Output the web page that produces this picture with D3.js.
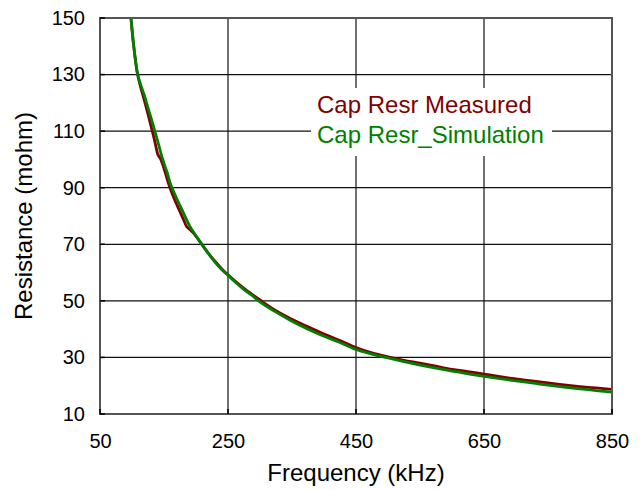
<!DOCTYPE html>
<html>
<head>
<meta charset="utf-8">
<script src="https://cdn.jsdelivr.net/npm/d3@7"></script>
<style>
  html, body { margin: 0; padding: 0; background: #fff; }
  svg { display: block; font-family: "Liberation Sans", Arial, sans-serif; }
</style>
</head>
<body>
<svg id="chart" width="641" height="490"></svg>
<script>
// ---- data ----
const freq = [98,100,102,104,106,108,110,113,116,120,125,130,135,140,145,150,155,160,165,170,175,180,185,190,195,200,210,220,230,240,250,262,275,287,300,325,350,375,400,425,450,475,500,525,550,575,600,625,650,675,700,725,750,775,800,825,850];
const resMeasured = [151,146,141.5,137.5,134,131,128.8,126,123.5,120.3,116,111.5,107,102,100,96.8,93,89.5,86.6,84,81.5,79,76.4,75.3,74.2,72.8,69.7,66.6,63.9,61.4,59.2,56.8,54.4,52.4,50.3,46.5,43.5,40.8,38.3,36,33.5,31.6,30.2,29,28,26.9,25.8,25,24.1,23.2,22.4,21.7,21,20.3,19.7,19.2,18.7];
const resSimulation = [151,146,141.5,137.5,134,131,129,126.8,124.8,122.2,118.2,114.5,110.5,106.6,102.3,98.6,95.3,91.4,88.6,86.1,83.7,81.3,78.9,76.5,74.7,73,69.7,66.5,63.6,61.1,59,56.5,54,52,49.6,46,42.8,40,37.5,35.3,32.8,31.2,29.8,28.5,27.3,26.2,25.2,24.2,23.3,22.5,21.7,21,20.2,19.5,18.9,18.3,17.7];
const xTicks = [50,250,450,650,850];
const yTicks = [10,30,50,70,90,110,130,150];
const seriesNames = ["Cap Resr Measured","Cap Resr_Simulation"];
const seriesColors = ["#800000","#008000"];

// ---- layout ----
const L = 100, R = 612, T = 18, B = 414;
const svg = d3.select("#chart");
const x = d3.scaleLinear().domain([50,850]).range([L,R]);
const y = d3.scaleLinear().domain([10,150]).range([B,T]);

// gridlines
const grid = svg.append("g");
grid.selectAll("line.v").data(xTicks.slice(1,-1)).join("line")
  .attr("x1", d=>x(d)).attr("x2", d=>x(d)).attr("y1", T).attr("y2", B)
  .attr("stroke", "#111").attr("stroke-width", 1.2);
grid.selectAll("line.h").data(yTicks.slice(1,-1)).join("line")
  .attr("x1", L).attr("x2", R).attr("y1", d=>y(d)).attr("y2", d=>y(d))
  .attr("stroke", "#111").attr("stroke-width", 1.2);

// clip
svg.append("defs").append("clipPath").attr("id","plotclip")
  .append("rect").attr("x", L).attr("y", T).attr("width", R-L).attr("height", B-T);

// lines
const line = d3.line().x((d,i)=>x(freq[i])).y(d=>y(d)).curve(d3.curveMonotoneX);
const lines = svg.append("g").attr("clip-path","url(#plotclip)");
[resMeasured, resSimulation].forEach((s,k)=>{
  lines.append("path").datum(s).attr("d", line)
    .attr("fill","none").attr("stroke", seriesColors[k])
    .attr("stroke-width", 2.8).attr("stroke-linejoin","round");
});

// frame
svg.append("rect").attr("x", L).attr("y", T).attr("width", R-L).attr("height", B-T)
  .attr("fill","none").attr("stroke","#555").attr("stroke-width",2);

// axes
const xAxis = d3.axisBottom(x).tickValues(xTicks).tickSize(0).tickPadding(20);
const gx = svg.append("g").attr("transform",`translate(0,${B})`).call(xAxis);
gx.select(".domain").remove();
gx.selectAll("text").attr("font-size", 20).attr("fill","#000").attr("font-family","Liberation Sans, Arial, sans-serif");

const yAxis = d3.axisLeft(y).tickValues(yTicks).tickSize(0).tickPadding(15);
const gy = svg.append("g").attr("transform",`translate(${L},0)`).call(yAxis);
gy.select(".domain").remove();
gy.selectAll("text").attr("font-size", 20).attr("fill","#000").attr("font-family","Liberation Sans, Arial, sans-serif");

// inner tick marks
svg.append("g").selectAll("line").data(yTicks).join("line")
  .attr("x1", L).attr("x2", L+5).attr("y1", d=>y(d)).attr("y2", d=>y(d))
  .attr("stroke","#000").attr("stroke-width",1.5);
svg.append("g").selectAll("line").data(xTicks).join("line")
  .attr("x1", d=>x(d)).attr("x2", d=>x(d)).attr("y1", B).attr("y2", B-5)
  .attr("stroke","#000").attr("stroke-width",1.5);

// axis titles
svg.append("text").attr("x", (L+R)/2).attr("y", 481).attr("text-anchor","middle")
  .attr("font-size", 24).attr("fill","#000").text("Frequency (kHz)");
svg.append("text").attr("transform", `translate(32,${(T+B)/2}) rotate(-90)`)
  .attr("text-anchor","middle").attr("font-size", 24).attr("fill","#000").text("Resistance (mohm)");

// legend
const lg = svg.append("g");
lg.append("rect").attr("x", 311).attr("y", 88).attr("width", 241).attr("height", 68).attr("fill","#fff");
seriesNames.forEach((n,k)=>{
  lg.append("text").attr("x", 317).attr("y", 113 + k*30).attr("font-size", 24)
    .attr("fill", seriesColors[k]).text(n);
});
</script>
</body>
</html>
